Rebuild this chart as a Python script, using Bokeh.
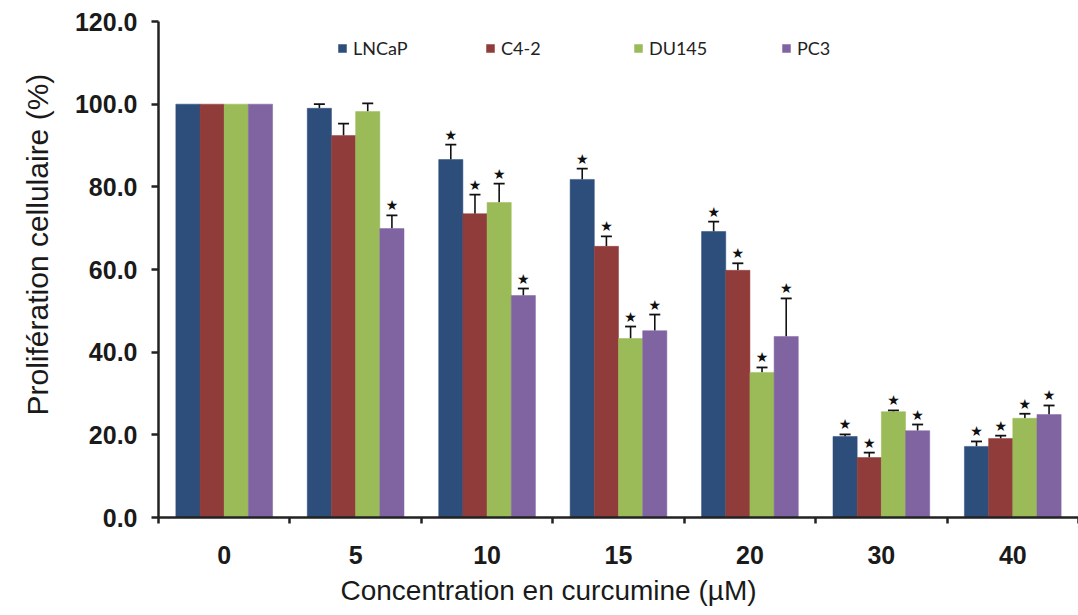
from bokeh.plotting import figure
from bokeh.models import (ColumnDataSource, Range1d, LinearAxis, FixedTicker,
                          NumeralTickFormatter, Whisker, TeeHead, Legend, Title)
from bokeh.core.properties import value
from bokeh.embed import file_html
from bokeh.resources import INLINE

# ---- data ----
categories = ["0", "5", "10", "15", "20", "30", "40"]
series_names = ["LNCaP", "C4-2", "DU145", "PC3"]
lncap = [100.0, 99.0, 86.6, 81.8, 69.2, 19.6, 17.2]
lncap_err = [0.0, 1.0, 3.6, 2.6, 2.4, 0.5, 1.2]
c42 = [100.0, 92.4, 73.5, 65.6, 59.8, 14.5, 19.1]
c42_err = [0.0, 2.9, 4.6, 2.4, 1.7, 1.2, 0.7]
du145 = [100.0, 98.2, 76.2, 43.3, 35.1, 25.6, 24.0]
du145_err = [0.0, 2.0, 4.6, 2.9, 1.2, 0.3, 1.1]
pc3 = [100.0, 69.9, 53.7, 45.2, 43.8, 21.0, 24.9]
pc3_err = [0.0, 3.2, 1.7, 3.9, 9.2, 1.5, 2.2]
lncap_sig = [0, 0, 1, 1, 1, 1, 1]
c42_sig = [0, 0, 1, 1, 1, 1, 1]
du145_sig = [0, 0, 1, 1, 1, 1, 1]
pc3_sig = [0, 1, 1, 1, 1, 1, 1]
y_ticks = [0, 20, 40, 60, 80, 100, 120]

colors = ["#2D4D7B", "#8F3C3A", "#9BBB59", "#8064A2"]
values = [lncap, c42, du145, pc3]
errors = [lncap_err, c42_err, du145_err, pc3_err]
sigs = [lncap_sig, c42_sig, du145_sig, pc3_sig]

FONT = "Liberation Sans"
BAR_W = 0.184
n = len(categories)

p = figure(width=1078, height=615, output_backend="svg", toolbar_location=None,
           x_range=Range1d(0, n), y_range=Range1d(0, 120),
           x_axis_type=None, y_axis_type=None,
           min_border_left=158, min_border_right=0, min_border_top=21,
           min_border_bottom=98)
p.outline_line_color = None
p.xgrid.visible = False
p.ygrid.visible = False
p.background_fill_color = "white"
p.border_fill_color = "white"

# y axis
yax = LinearAxis(ticker=FixedTicker(ticks=y_ticks),
                 formatter=NumeralTickFormatter(format="0.0"))
yax.major_label_text_font = FONT
yax.major_label_text_font_size = "25px"
yax.major_label_text_font_style = "bold"
yax.major_label_text_color = "#1a1a1a"
yax.major_label_standoff = 14
yax.axis_line_width = 2.5
yax.axis_line_color = "#222222"
yax.major_tick_line_width = 2.5
yax.major_tick_line_color = "#222222"
yax.major_tick_in = 0
yax.major_tick_out = 7
yax.minor_tick_line_color = None
p.add_layout(yax, "left")

# x axis line with ticks between categories
xax = LinearAxis(ticker=FixedTicker(ticks=list(range(n + 1))))
xax.major_label_overrides = {i: "" for i in range(n + 1)}
xax.major_label_text_font_size = "1px"
xax.major_label_standoff = 0
xax.axis_line_width = 2.5
xax.axis_line_color = "#222222"
xax.major_tick_line_width = 2.5
xax.major_tick_line_color = "#222222"
xax.major_tick_in = 0
xax.major_tick_out = 6
xax.minor_tick_line_color = None
p.add_layout(xax, "below")

# x category labels at centers
centers = [i + 0.5 for i in range(n)]
xlab = LinearAxis(ticker=FixedTicker(ticks=centers))
xlab.major_label_overrides = {c: lab for c, lab in zip(centers, categories)}
xlab.axis_line_color = None
xlab.major_tick_line_color = None
xlab.minor_tick_line_color = None
xlab.major_tick_out = 0
xlab.major_tick_in = 0
xlab.major_label_text_font = FONT
xlab.major_label_text_font_size = "25px"
xlab.major_label_text_font_style = "bold"
xlab.major_label_text_color = "#1a1a1a"
xlab.major_label_standoff = 22
p.add_layout(xlab, "below")

xtitle = Title(text="Concentration en curcumine (µM)", align="left",
               offset=182, text_font=FONT, text_font_size="28px",
               text_font_style="normal", text_color="#1a1a1a", standoff=12)
p.add_layout(xtitle, "below")

ytitle = Title(text="Prolifération cellulaire (%)", align="left",
               vertical_align="middle", offset=102, text_font=FONT,
               text_font_size="30px", text_font_style="normal",
               text_color="#1a1a1a", standoff=34)
p.add_layout(ytitle, "left")

legend_items = []
for k, name in enumerate(series_names):
    off = (k - 1.5) * BAR_W
    xs = [c + off for c in centers]
    src = ColumnDataSource(dict(x=xs, top=values[k]))
    r = p.vbar(x="x", top="top", width=BAR_W, source=src,
               fill_color=colors[k], line_color=colors[k], line_width=0.5)
    legend_items.append((name, [r]))

    ex = [x for x, e in zip(xs, errors[k]) if e > 0]
    elo = [v for v, e in zip(values[k], errors[k]) if e > 0]
    ehi = [v + e for v, e in zip(values[k], errors[k]) if e > 0]
    esrc = ColumnDataSource(dict(base=ex, lower=elo, upper=ehi))
    w = Whisker(base="base", lower="lower", upper="upper", source=esrc,
                line_color="#111111", line_width=1.6,
                upper_head=TeeHead(size=11, line_color="#111111", line_width=1.8),
                lower_head=None)
    p.add_layout(w)

    sx = [x for x, s in zip(xs, sigs[k]) if s]
    sy = [v + e for v, e, s in zip(values[k], errors[k], sigs[k]) if s]
    ssrc = ColumnDataSource(dict(x=sx, y=sy))
    p.text(x="x", y="y", text=value("★"), source=ssrc, text_align="center",
           text_baseline="bottom", y_offset=-2, text_font=value("DejaVu Sans"),
           text_font_size="14px", text_color="#111111")

legend = Legend(items=legend_items, orientation="horizontal",
                location=(179, 458), glyph_width=10, glyph_height=10,
                label_standoff=6, label_width=132, spacing=0, padding=0,
                margin=0, border_line_color=None, background_fill_alpha=0,
                label_text_font="Lato", label_text_font_size="18px",
                label_text_color="#222222")
p.add_layout(legend)

open("out.html", "w").write(file_html(p, INLINE))
